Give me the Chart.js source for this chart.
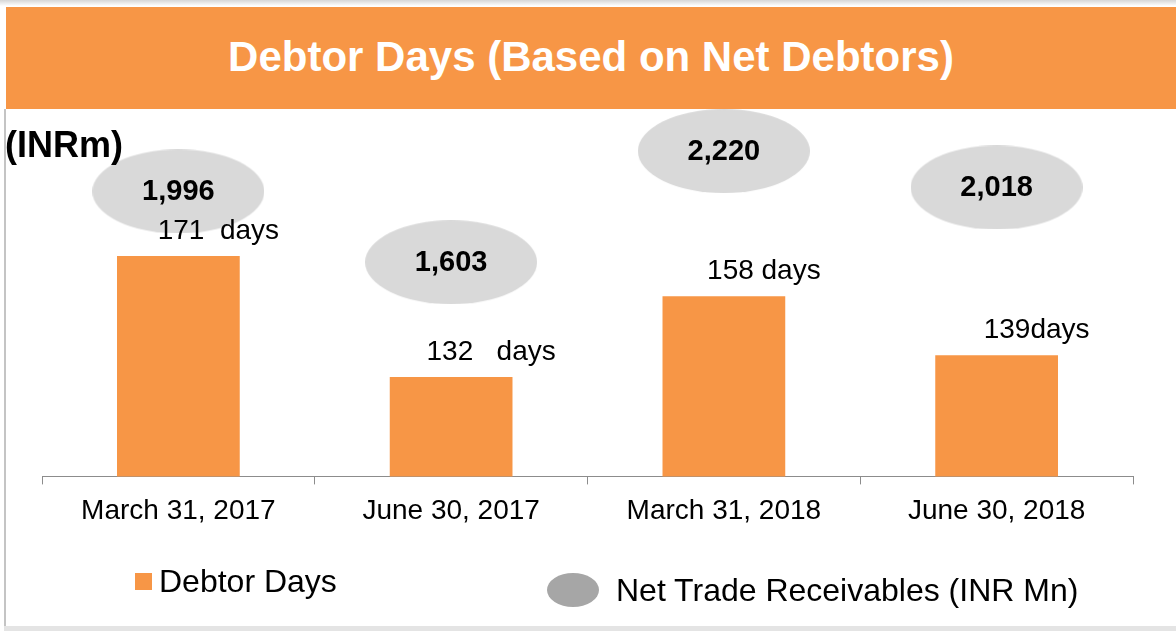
<!DOCTYPE html>
<html>
<head>
<meta charset="utf-8">
<script src="https://cdn.jsdelivr.net/npm/chart.js@4.4.0/dist/chart.umd.min.js"></script>
<style>
  body { margin: 0; background: #fff; font-family: "Liberation Sans", Arial, sans-serif; }
  #page { position: relative; width: 1176px; height: 631px; overflow: hidden; }
  #topshade { position: absolute; left: 0; top: 0; width: 1176px; height: 6px; background: linear-gradient(#d6d6d6, #fff); }
  #leftline { position: absolute; left: 4px; top: 109px; width: 2px; height: 518px; background: #c4c4c4; }
  #bottomline { position: absolute; left: 4px; top: 626px; width: 1172px; height: 5px; background: #e4e4e4; }
  #header { position: absolute; left: 6px; top: 7px; width: 1170px; height: 100px; padding-bottom: 2px; background: #f79646;
    color: #fff; font-weight: bold; font-size: 42px; display: flex; align-items: center; justify-content: center; }
  #debtor-days { position: absolute; left: 0; top: 0; z-index: 1; }
  #unit { position: absolute; left: 5px; top: 127px; font-size: 36px; font-weight: bold; line-height: 1; z-index: 2; }
  .legend-item { position: absolute; display: flex; align-items: center; height: 40px; font-size: 32px; color: #000; z-index: 2; }
  #legend-0 { left: 135px; top: 561px; }
  #legend-1 { left: 547px; top: 570px; }
  .box { width: 17px; height: 17px; margin-right: 7px; }
  .oval { width: 52px; height: 34px; border-radius: 50%; margin-right: 17px; }
</style>
</head>
<body>
<div id="page">
  <div id="topshade"></div>
  <div id="leftline"></div>
  <div id="bottomline"></div>
  <div id="header">Debtor Days (Based on Net Debtors)</div>
  <canvas id="debtor-days" width="1176" height="631"></canvas>
  <div id="unit">(INRm)</div>
  <div id="legend"></div>
</div>
<script>
var periods = ["March 31, 2017", "June 30, 2017", "March 31, 2018", "June 30, 2018"];
var debtor_days = [171, 132, 158, 139];
var day_labels = ["171  days", "132   days", "158 days", "139days"];
var receivables = [1996, 1603, 2220, 2018];

var FONT = "'Liberation Sans', Arial, sans-serif";

function make_ellipse(w, h, color) {
  var c = document.createElement("canvas");
  c.width = w;
  c.height = h;
  var ctx = c.getContext("2d");
  ctx.fillStyle = color;
  ctx.beginPath();
  ctx.ellipse(w / 2, h / 2, w / 2, h / 2, 0, 0, Math.PI * 2);
  ctx.fill();
  return c;
}

// numbers above bars and inside the ovals
var value_labels = {
  id: "value_labels",
  afterDatasetsDraw: function (chart) {
    var ctx = chart.ctx;
    ctx.save();
    ctx.textAlign = "center";
    ctx.textBaseline = "middle";
    ctx.fillStyle = "#000";
    ctx.font = "28px " + FONT;
    chart.getDatasetMeta(0).data.forEach(function (bar, i) {
      ctx.fillText(day_labels[i], bar.x + 40, bar.y - 25);
    });
    ctx.font = "bold 29px " + FONT;
    chart.getDatasetMeta(1).data.forEach(function (pt, i) {
      ctx.fillText(receivables[i].toLocaleString("en-US"), pt.x, pt.y + 1);
    });
    ctx.restore();
  },
};

function make_legend(chart) {
  var legend = document.getElementById("legend");
  chart.data.datasets.forEach(function (ds, i) {
    var item = document.createElement("div");
    item.className = "legend-item";
    item.id = "legend-" + i;
    var marker = document.createElement("span");
    marker.className = ds.type === "line" ? "oval" : "box";
    marker.style.background = ds.legendColor;
    item.appendChild(marker);
    item.appendChild(document.createTextNode(ds.label));
    legend.appendChild(item);
  });
}

var config = {
  type: "bar",
  data: {
    labels: periods,
    datasets: [
      {
        label: "Debtor Days",
        data: debtor_days,
        backgroundColor: "#f79646",
        legendColor: "#f79646",
        barPercentage: 0.45,
        categoryPercentage: 1,
        yAxisID: "y",
        order: 2,
      },
      {
        type: "line",
        label: "Net Trade Receivables (INR Mn)",
        data: receivables,
        showLine: false,
        pointStyle: make_ellipse(172, 84, "#d9d9d9"),
        pointRadius: 40,
        legendColor: "#a6a6a6",
        yAxisID: "y2",
        clip: false,
        order: 1,
      },
    ],
  },
  options: {
    responsive: false,
    animation: false,
    events: [],
    layout: { padding: { left: 42, right: 43, top: 110, bottom: 93 } },
    plugins: { legend: { display: false }, title: { display: false }, tooltip: { enabled: false } },
    scales: {
      x: {
        grid: { display: true, drawOnChartArea: false, tickLength: 8, color: "#8c8c8c", offset: true },
        border: { color: "#8c8c8c", width: 1 },
        ticks: { color: "#000", font: { size: 28, family: FONT }, padding: 10, maxRotation: 0 },
      },
      y: { display: false, min: 100, max: 218 },
      y2: { display: false, min: 414, max: 2448 },
    },
  },
  plugins: [value_labels],
};

var ctx = document.getElementById("debtor-days").getContext("2d");
var chart = new Chart(ctx, config);
make_legend(chart);
</script>
</body>
</html>
